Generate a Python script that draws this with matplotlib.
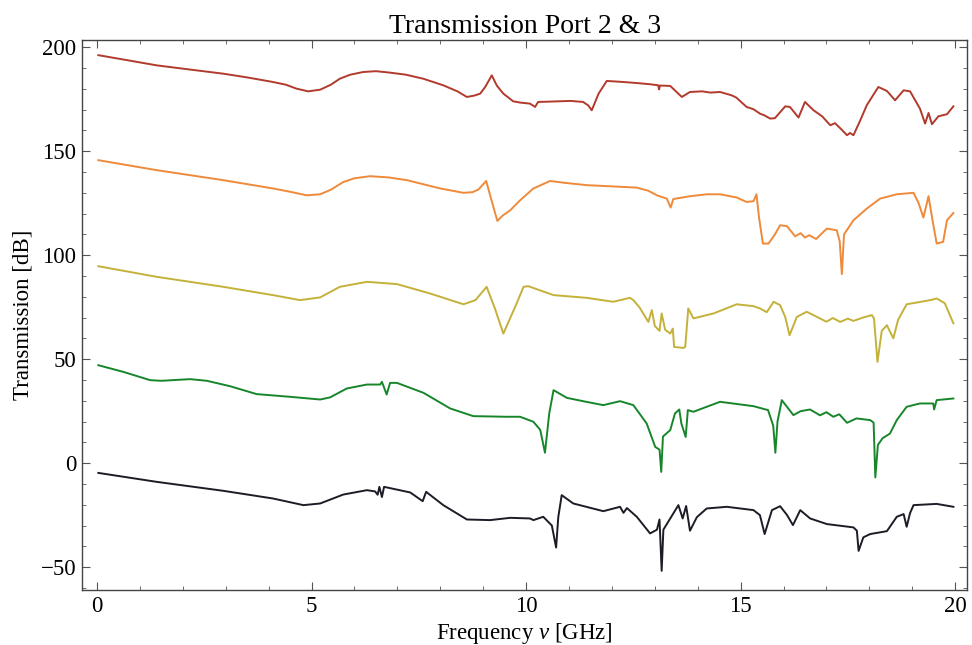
import numpy as np
import matplotlib
matplotlib.use("Agg")
import matplotlib.pyplot as plt
from matplotlib.ticker import MultipleLocator

# ---------------- data ----------------
red_f = [0.03, 0.7, 1.39, 2.2, 2.94, 3.5, 4.1, 4.4, 4.65, 4.92, 5.2, 5.45, 5.66, 5.9, 6.2, 6.5,
         6.83, 7.2, 7.6, 8.07, 8.4, 8.62, 8.8, 8.93, 9.05, 9.2, 9.32, 9.47, 9.7, 9.86, 10.09,
         10.21, 10.28, 10.6, 11.03, 11.33, 11.45, 11.53, 11.69, 11.88, 12.2, 12.58, 12.9, 13.08,
         13.1, 13.12, 13.36, 13.63, 13.82, 14.1, 14.3, 14.52, 14.79, 14.9, 15.14, 15.3, 15.45,
         15.55, 15.69, 15.8, 16.04, 16.15, 16.35, 16.5, 16.7, 16.9, 17.09, 17.2, 17.35, 17.48,
         17.55, 17.63, 17.79, 17.94, 18.21, 18.41, 18.6, 18.8, 18.95, 19.18, 19.3, 19.38, 19.46,
         19.61, 19.81, 19.96]
red_v = [196.2, 193.8, 191.3, 189.2, 187.3, 185.5, 183.3, 182.0, 180.1, 178.8, 179.6, 182.0,
         184.9, 186.8, 188.1, 188.5, 187.8, 186.8, 184.9, 181.7, 178.8, 176.1, 176.8, 177.7,
         181.0, 186.5, 181.5, 177.7, 174.0, 173.4, 172.9, 171.3, 173.7, 173.9, 174.2, 173.7,
         172.0, 169.7, 177.7, 183.8, 183.4, 182.8, 182.2, 181.7, 179.7, 181.6, 181.4, 176.1,
         178.5, 178.8, 178.2, 178.5, 176.9, 175.8, 171.3, 170.2, 168.1, 167.3, 165.7, 165.9,
         171.6, 171.3, 166.2, 173.7, 169.7, 166.8, 162.5, 163.5, 160.5, 157.7, 158.8, 157.7,
         164.9, 172.1, 180.9, 179.0, 174.5, 179.3, 178.8, 170.5, 163.3, 168.4, 163.0, 166.8,
         167.8, 171.6]

orange_f = [0.03, 1.39, 2.94, 4.1, 4.5, 4.89, 5.2, 5.45, 5.74, 6.0, 6.36, 6.8, 7.22, 8.0, 8.54,
            8.75, 8.89, 9.07, 9.2, 9.33, 9.45, 9.63, 9.86, 10.17, 10.56, 10.9, 11.41, 12.0,
            12.58, 12.85, 13.05, 13.28, 13.37, 13.43, 13.8, 14.21, 14.52, 14.9, 15.14, 15.3,
            15.37, 15.43, 15.52, 15.65, 15.8, 15.92, 16.08, 16.27, 16.4, 16.5, 16.6, 16.76,
            17.01, 17.24, 17.31, 17.36, 17.41, 17.63, 17.94, 18.25, 18.64, 19.03, 19.15, 19.26,
            19.38, 19.48, 19.57, 19.72, 19.81, 19.96]
orange_v = [145.7, 140.9, 136.1, 132.1, 130.5, 128.8, 129.3, 131.5, 135.2, 137.0, 138.0, 137.4,
            136.1, 132.1, 130.0, 130.3, 131.6, 135.7, 126.0, 116.5, 119.0, 121.6, 126.4, 132.1,
            135.7, 134.8, 133.7, 133.1, 132.5, 131.0, 128.8, 127.2, 122.9, 127.0, 128.3, 129.3,
            129.3, 127.8, 125.6, 126.0, 129.3, 118.0, 105.6, 105.6, 110.0, 114.4, 114.0, 109.1,
            110.6, 108.5, 109.6, 107.8, 112.8, 112.0, 106.7, 90.9, 110.0, 116.8, 122.4, 127.2,
            129.3, 130.0, 125.0, 118.1, 128.4, 116.0, 105.6, 106.4, 116.8, 120.3]

yellow_f = [0.03, 1.39, 2.94, 4.1, 4.73, 5.2, 5.66, 6.29, 6.99, 7.76, 8.54, 8.82, 9.08, 9.28,
            9.47, 9.78, 9.94, 10.05, 10.64, 11.41, 12.03, 12.42, 12.5, 12.64, 12.85, 12.93,
            13.0, 13.11, 13.16, 13.24, 13.36, 13.42, 13.45, 13.67, 13.71, 13.78, 13.9, 14.37,
            14.91, 15.3, 15.45, 15.61, 15.77, 15.92, 16.04, 16.14, 16.31, 16.54, 16.85, 17.0,
            17.15, 17.32, 17.5, 17.63, 17.85, 18.06, 18.11, 18.19, 18.29, 18.41, 18.56, 18.67,
            18.87, 19.15, 19.42, 19.57, 19.76, 19.96]
yellow_v = [94.7, 89.6, 84.8, 80.8, 78.4, 79.7, 84.8, 87.2, 86.1, 81.6, 76.4, 78.4, 84.8, 74.0,
            62.3, 76.8, 84.8, 85.1, 80.8, 79.5, 77.6, 79.5, 78.4, 75.0, 67.9, 73.6, 66.0, 63.6,
            72.0, 64.2, 62.3, 64.7, 55.9, 55.4, 56.0, 74.4, 69.6, 72.0, 76.4, 75.5, 74.4, 72.6,
            77.6, 76.0, 70.3, 61.5, 70.3, 72.8, 69.6, 68.0, 69.8, 67.9, 69.5, 68.4, 70.0, 71.2,
            69.5, 48.7, 63.6, 66.3, 60.0, 68.9, 76.4, 77.4, 78.4, 79.2, 76.9, 67.2]

green_f = [0.03, 0.61, 1.24, 1.5, 2.17, 2.56, 3.1, 3.72, 4.5, 5.2, 5.43, 5.82, 6.29, 6.6, 6.64,
           6.75, 6.83, 6.99, 7.61, 8.23, 8.77, 9.55, 9.86, 10.17, 10.33, 10.44, 10.54, 10.64,
           10.95, 11.4, 11.8, 12.19, 12.5, 12.81, 13.01, 13.11, 13.15, 13.19, 13.36, 13.47,
           13.57, 13.62, 13.72, 13.77, 13.9, 14.52, 15.3, 15.64, 15.76, 15.81, 15.86, 15.96,
           16.23, 16.4, 16.62, 16.85, 17.0, 17.16, 17.3, 17.48, 17.7, 18.02, 18.1, 18.14, 18.2,
           18.31, 18.48, 18.64, 18.87, 19.18, 19.49, 19.51, 19.57, 19.96]
green_v = [47.1, 43.9, 39.9, 39.6, 40.4, 39.6, 37.0, 33.2, 31.9, 30.6, 31.6, 35.9, 37.8, 37.8,
           39.1, 33.0, 38.6, 38.6, 33.8, 26.3, 22.6, 22.3, 22.3, 19.9, 16.0, 5.0, 24.0, 35.1,
           31.4, 29.5, 27.9, 29.8, 27.9, 19.1, 7.8, 6.5, -4.2, 12.8, 15.9, 23.9, 25.8, 19.0,
           12.6, 25.5, 24.7, 29.5, 27.4, 25.5, 18.0, 5.0, 20.0, 30.3, 23.1, 25.0, 25.8, 23.0,
           24.5, 22.3, 23.5, 19.4, 21.5, 20.7, 19.5, -6.9, 8.8, 12.0, 14.2, 20.7, 27.1, 28.7,
           28.7, 25.8, 30.3, 31.1]

black_f = [0.03, 1.39, 2.94, 4.1, 4.81, 5.2, 5.74, 6.29, 6.48, 6.54, 6.58, 6.64, 6.69, 7.3,
           7.59, 7.67, 8.07, 8.62, 9.16, 9.63, 10.09, 10.17, 10.4, 10.6, 10.7, 10.75, 10.83,
           11.1, 11.8, 12.19, 12.27, 12.35, 12.58, 12.89, 13.05, 13.11, 13.16, 13.2, 13.36,
           13.55, 13.65, 13.73, 13.82, 13.98, 14.21, 14.68, 15.3, 15.45, 15.56, 15.73, 15.92,
           16.08, 16.22, 16.39, 16.62, 17.01, 17.32, 17.63, 17.71, 17.75, 17.86, 18.02, 18.41,
           18.64, 18.8, 18.87, 18.95, 19.03, 19.57, 19.96]
black_v = [-4.7, -9.0, -13.3, -17.0, -20.2, -19.4, -15.1, -13.0, -13.6, -15.2, -11.4, -16.3,
           -11.4, -14.1, -18.3, -13.8, -20.2, -27.1, -27.4, -26.3, -26.6, -27.4, -25.8, -30.0,
           -40.6, -26.0, -15.4, -19.4, -23.1, -21.0, -23.9, -21.6, -25.8, -33.8, -32.0, -27.1,
           -51.8, -32.0, -26.6, -20.2, -26.6, -20.6, -32.5, -26.0, -21.8, -21.0, -22.6, -25.0,
           -34.1, -22.6, -20.7, -24.9, -29.8, -22.6, -26.6, -29.3, -30.1, -30.9, -32.5, -42.2,
           -35.7, -34.1, -32.7, -25.8, -24.5, -30.6, -24.0, -20.2, -19.6, -21.0]

series = [
    (red_f, red_v, "#b23a2c"),
    (orange_f, orange_v, "#ef8a3a"),
    (yellow_f, yellow_v, "#c4b13a"),
    (green_f, green_v, "#17862b"),
    (black_f, black_v, "#1c1c26"),
]

title = "Transmission Port 2 & 3"
xlabel = r"Frequency $\nu$ [GHz]"
ylabel = "Transmission [dB]"
xticks = [0, 5, 10, 15, 20]
yticks = [-50, 0, 50, 100, 150, 200]

# ---------------- figure ----------------
plt.rcParams['font.family'] = ['Liberation Serif', 'DejaVu Serif']
plt.rcParams['mathtext.fontset'] = 'custom'
plt.rcParams['mathtext.it'] = 'Liberation Serif:italic'
plt.rcParams['mathtext.rm'] = 'Liberation Serif'

fig = plt.figure(figsize=(9.72, 6.45), dpi=100)
ax = fig.add_axes([0.0844, 0.0853, 0.9106, 0.8527])

for f, v, c in series:
    ax.plot(f, v, color=c, lw=1.4, solid_joinstyle='round')

ax.set_xlim(-0.35, 20.28)
ax.set_ylim(-61, 203.5)
ax.set_xticks(xticks)
ax.set_yticks(yticks)
ax.xaxis.set_minor_locator(MultipleLocator(1))
ax.yaxis.set_minor_locator(MultipleLocator(10))
ax.set_yticklabels(["\u221250" if t < 0 else str(t) for t in yticks])
ax.tick_params(which='both', direction='in', top=True, right=True, labelsize=16.5,
               color='#555555', pad=4)
ax.tick_params(which='major', length=6, width=0.8)
ax.tick_params(which='minor', length=3, width=0.6)
for s in ax.spines.values():
    s.set_color('#444444')
    s.set_linewidth(1.0)

ax.set_title(title, fontsize=20, pad=5)
ax.set_xlabel(xlabel, fontsize=16.5, labelpad=3)
ax.set_ylabel(ylabel, fontsize=16.5, labelpad=5)

fig.savefig("out.png", dpi=100)
